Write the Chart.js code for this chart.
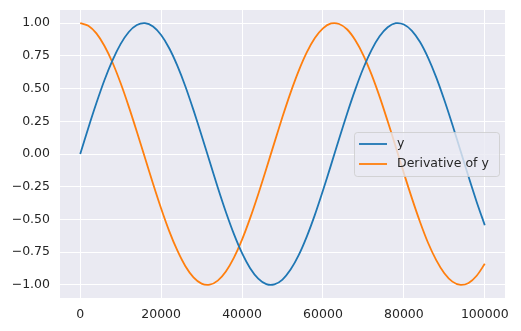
<!DOCTYPE html>
<html>
<head>
<meta charset="utf-8">
<script src="https://cdn.jsdelivr.net/npm/chart.js@4"></script>
<style>
  html, body { margin: 0; padding: 0; background: #fff; }
  #wrap { width: 521px; height: 331px; position: relative; }
</style>
</head>
<body>
<div id="wrap"><canvas id="grafico"></canvas></div>
<script>
// valores (x cada 2000)
const xValores = [0, 2000, 4000, 6000, 8000, 10000, 12000, 14000, 16000, 18000,
  20000, 22000, 24000, 26000, 28000, 30000, 32000, 34000, 36000, 38000,
  40000, 42000, 44000, 46000, 48000, 50000, 52000, 54000, 56000, 58000,
  60000, 62000, 64000, 66000, 68000, 70000, 72000, 74000, 76000, 78000,
  80000, 82000, 84000, 86000, 88000, 90000, 92000, 94000, 96000, 98000, 100000];

const yValores = [0.000, 0.199, 0.389, 0.565, 0.717, 0.841, 0.932, 0.985, 1.000, 0.974,
  0.909, 0.808, 0.675, 0.516, 0.335, 0.141, -0.058, -0.256, -0.443, -0.612,
  -0.757, -0.872, -0.952, -0.994, -0.996, -0.959, -0.883, -0.773, -0.631, -0.465,
  -0.279, -0.083, 0.117, 0.312, 0.494, 0.657, 0.794, 0.899, 0.968, 0.999,
  0.989, 0.941, 0.855, 0.734, 0.585, 0.412, 0.223, 0.025, -0.174, -0.366, -0.544];

const derivadaValores = [1.000, 0.980, 0.921, 0.825, 0.697, 0.540, 0.362, 0.170, -0.029, -0.227,
  -0.416, -0.589, -0.737, -0.857, -0.942, -0.990, -0.998, -0.967, -0.897, -0.791,
  -0.654, -0.490, -0.307, -0.112, 0.087, 0.284, 0.469, 0.635, 0.776, 0.886,
  0.960, 0.997, 0.993, 0.951, 0.869, 0.754, 0.608, 0.438, 0.250, 0.054,
  -0.146, -0.339, -0.519, -0.680, -0.811, -0.911, -0.975, -1.000, -0.985, -0.930, -0.839];

const ticksX = [0, 20000, 40000, 60000, 80000, 100000];
const ticksY = [-1.00, -0.75, -0.50, -0.25, 0.00, 0.25, 0.50, 0.75, 1.00];
const etiquetas = ['y', 'Derivative of y'];
const colores = ['#1f77b4', '#ff7f0e'];

const fuente = { family: 'DejaVu Sans', size: 12.5 };
const colorTexto = '#262626';

// fondo gris del area de dibujo
const fondoPlot = {
  id: 'fondoPlot',
  beforeDraw(chart) {
    const { ctx, chartArea: a } = chart;
    ctx.save();
    ctx.fillStyle = '#EAEAF2';
    ctx.fillRect(a.left, a.top, a.right - a.left, a.bottom - a.top);
    ctx.restore();
  }
};

// leyenda dentro del grafico, estilo matplotlib
const leyenda = {
  id: 'leyenda',
  afterDraw(chart) {
    const { ctx, chartArea: a } = chart;
    const ancho = 145, alto = 44;
    const x0 = a.right - 6 - ancho;
    const y0 = a.top + (a.bottom - a.top) / 2 - alto / 2;
    ctx.save();
    ctx.fillStyle = 'rgba(234,234,242,0.8)';
    ctx.strokeStyle = 'rgba(204,204,204,0.8)';
    ctx.lineWidth = 1;
    ctx.beginPath();
    ctx.roundRect(x0 + 0.5, y0 + 0.5, ancho, alto, 3);
    ctx.fill();
    ctx.stroke();
    ctx.font = '12.5px "DejaVu Sans"';
    ctx.textBaseline = 'middle';
    etiquetas.forEach((t, i) => {
      const yy = y0 + 12 + i * 20;
      ctx.strokeStyle = colores[i];
      ctx.lineWidth = 1.8;
      ctx.beginPath();
      ctx.moveTo(x0 + 5, yy);
      ctx.lineTo(x0 + 33, yy);
      ctx.stroke();
      ctx.fillStyle = colorTexto;
      ctx.fillText(t, x0 + 43, yy);
    });
    ctx.restore();
  }
};

function serie(valores) {
  return xValores.map((x, i) => ({ x: x, y: valores[i] }));
}

new Chart(document.getElementById('grafico'), {
  type: 'line',
  data: {
    datasets: [
      { label: etiquetas[0], data: serie(yValores), borderColor: colores[0], borderWidth: 1.8,
        pointRadius: 0, tension: 0.3, fill: false },
      { label: etiquetas[1], data: serie(derivadaValores), borderColor: colores[1], borderWidth: 1.8,
        pointRadius: 0, tension: 0.3, fill: false }
    ]
  },
  options: {
    responsive: true,
    maintainAspectRatio: false,
    animation: false,
    layout: { padding: { top: 10, right: 16, left: 0, bottom: 0 } },
    plugins: { legend: { display: false }, tooltip: { enabled: false } },
    scales: {
      x: {
        type: 'linear',
        min: -5000,
        max: 105000,
        afterBuildTicks: s => { s.ticks = ticksX.map(v => ({ value: v })); },
        afterFit: s => { s.height = 33; s.paddingLeft = 0; s.paddingRight = 0; },
        grid: { color: '#ffffff', lineWidth: 1, drawTicks: false },
        border: { display: false },
        ticks: { font: fuente, color: colorTexto, padding: 9, maxRotation: 0,
                 callback: v => String(v) }
      },
      y: {
        min: -1.1,
        max: 1.1,
        afterBuildTicks: s => { s.ticks = ticksY.map(v => ({ value: v })); },
        afterFit: s => { s.width = 60; s.paddingTop = 0; s.paddingBottom = 0; },
        grid: { color: '#ffffff', lineWidth: 1, drawTicks: false },
        border: { display: false },
        ticks: { font: fuente, color: colorTexto, padding: 10,
                 callback: v => v.toFixed(2).replace('-', '\u2212') }
      }
    }
  },
  plugins: [fondoPlot, leyenda]
});
</script>
</body>
</html>
